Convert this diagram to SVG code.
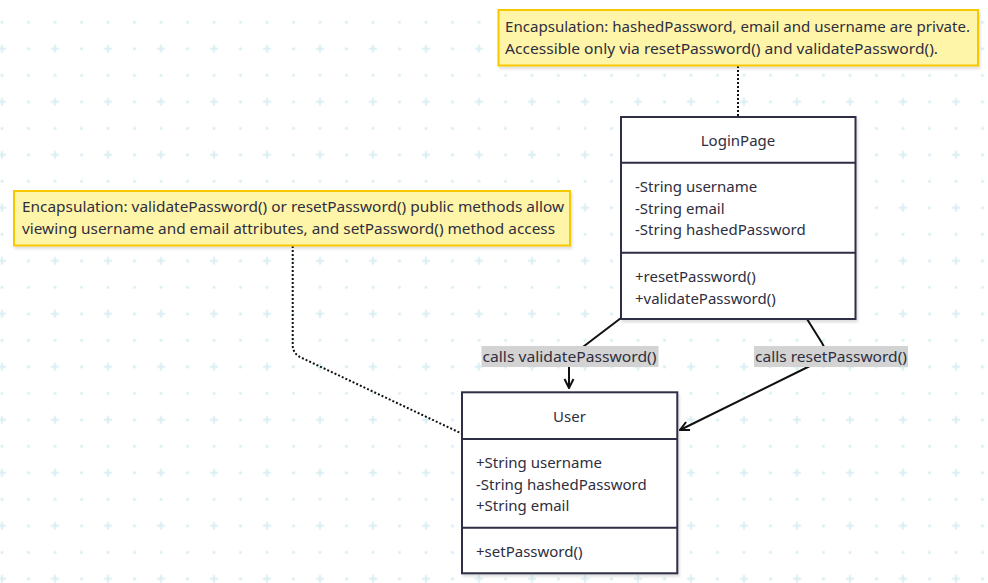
<svg xmlns="http://www.w3.org/2000/svg" width="988" height="583" viewBox="0 0 988 583">
<style>
text{font-family:"Noto Sans","Open Sans","Liberation Sans",sans-serif;font-size:15px;fill:#2e2e40}
.note{fill:#fff5a8;stroke:#f5c800;stroke-width:2}
.box{fill:#ffffff;stroke:#2d2d44;stroke-width:2}
.div{stroke:#2d2d44;stroke-width:2}
.dot{fill:none;stroke:#111;stroke-width:2;stroke-dasharray:2 2}
.edge{fill:none;stroke:#111;stroke-width:2}
.lbl{fill:#d3d3d3}
.mid{text-anchor:middle}
.sh{filter:url(#shadow)}
</style>
<defs>
<pattern id="grid" patternUnits="userSpaceOnUse" x="-11.25" y="-17.45" width="53" height="53">
<path d="M9.25 13.25h8M13.25 9.25v8" stroke="#d9eef3" stroke-width="2"/>
<circle cx="39.75" cy="13.25" r="1.6" fill="#d9eef3"/>
<circle cx="13.25" cy="39.75" r="1.6" fill="#d9eef3"/>
<circle cx="39.75" cy="39.75" r="1.6" fill="#d9eef3"/>
</pattern>
<filter id="shadow" x="-5%" y="-5%" width="115%" height="120%">
<feDropShadow dx="1.5" dy="2.5" stdDeviation="1" flood-color="#000" flood-opacity="0.12"/>
</filter>
<marker id="arr" viewBox="0 0 12 12" refX="11" refY="6" markerWidth="12" markerHeight="12" markerUnits="userSpaceOnUse" orient="auto">
<path d="M2 1.5L11 6L2 10.5" fill="none" stroke="#111" stroke-width="2"/>
</marker>
</defs>
<rect width="988" height="583" fill="#ffffff"/>
<rect width="988" height="583" fill="url(#grid)"/>

<g id="connectors">
<path class="dot" d="M738 66V116"/>
<path class="dot" d="M292.7 246V345Q292.7 354 302 358L461.5 433.5"/>
<path class="edge" d="M621 318L575 353Q569 358 569 364V388" marker-end="url(#arr)"/>
<path class="edge" d="M807 319L822 343Q830 356 818 362L680 430" marker-end="url(#arr)"/>
<rect class="lbl" x="481.5" y="346" width="177" height="21"/>
<text x="482.5" y="361.5" textLength="174" lengthAdjust="spacingAndGlyphs">calls validatePassword()</text>
<rect class="lbl" x="754" y="346" width="154" height="21"/>
<text x="755" y="361.5" textLength="152" lengthAdjust="spacingAndGlyphs">calls resetPassword()</text>
</g>

<g id="note1">
<rect class="note sh" x="498.5" y="10" width="479.5" height="55.5"/>
<text x="505" y="31.5" textLength="465" lengthAdjust="spacingAndGlyphs">Encapsulation: hashedPassword, email and username are private.</text>
<text x="505" y="53.5" textLength="433" lengthAdjust="spacingAndGlyphs">Accessible only via resetPassword() and validatePassword().</text>
</g>

<g id="note2">
<rect class="note sh" x="14" y="191" width="556" height="54.5"/>
<text x="22" y="212" textLength="542" lengthAdjust="spacingAndGlyphs">Encapsulation: validatePassword() or resetPassword() public methods allow</text>
<text x="22" y="234" textLength="533" lengthAdjust="spacingAndGlyphs">viewing username and email attributes, and setPassword() method access</text>
</g>

<g id="LoginPage">
<rect class="box sh" x="621" y="117" width="234.5" height="202"/>
<line class="div" x1="621" y1="162.7" x2="855.5" y2="162.7"/>
<line class="div" x1="621" y1="252.7" x2="855.5" y2="252.7"/>
<text class="mid" x="738" y="146">LoginPage</text>
<text x="635" y="192">-String username</text>
<text x="635" y="213.5">-String email</text>
<text x="635" y="235">-String hashedPassword</text>
<text x="635" y="282">+resetPassword()</text>
<text x="635" y="303.5">+validatePassword()</text>
</g>

<g id="User">
<rect class="box sh" x="462" y="392.3" width="215.3" height="181"/>
<line class="div" x1="462" y1="439" x2="677.3" y2="439"/>
<line class="div" x1="462" y1="527.7" x2="677.3" y2="527.7"/>
<text class="mid" x="569.5" y="421.5">User</text>
<text x="476" y="468">+String username</text>
<text x="476" y="489.5">-String hashedPassword</text>
<text x="476" y="511">+String email</text>
<text x="476" y="557">+setPassword()</text>
</g>
</svg>
